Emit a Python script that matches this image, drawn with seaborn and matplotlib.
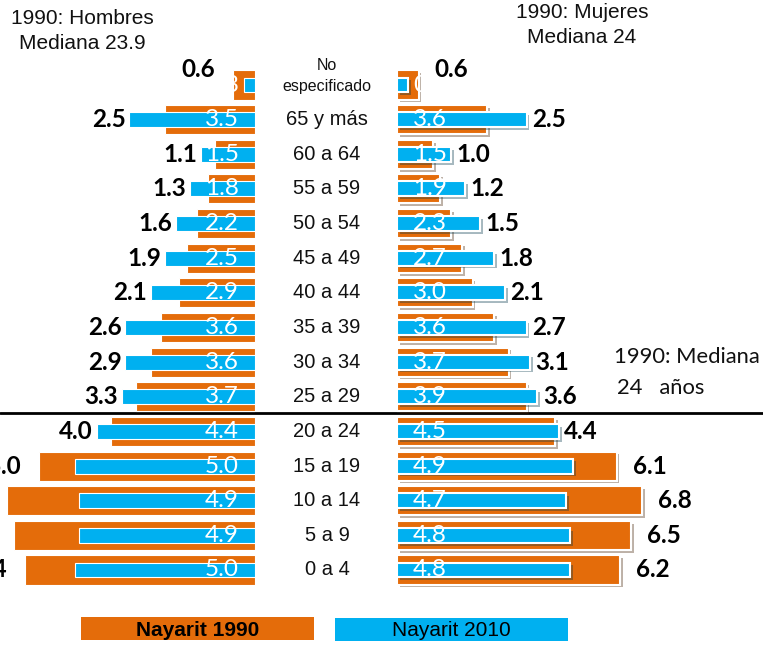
import matplotlib
matplotlib.use("Agg")
import matplotlib.pyplot as plt
import matplotlib.patheffects as pe
import matplotlib.transforms as mtransforms
from matplotlib.patches import Rectangle
from matplotlib.lines import Line2D
import seaborn as sns
import pandas as pd

# grupos de edad, de arriba hacia abajo
EDADES = ["No\nespecificado", "65 y más", "60 a 64", "55 a 59", "50 a 54", "45 a 49",
          "40 a 44", "35 a 39", "30 a 34", "25 a 29", "20 a 24", "15 a 19",
          "10 a 14", "5 a 9", "0 a 4"]
HOMBRES_1990 = [0.6, 2.5, 1.1, 1.3, 1.6, 1.9, 2.1, 2.6, 2.9, 3.3, 4.0, 6.0, 6.9, 6.7, 6.4]
HOMBRES_2010 = [0.3, 3.5, 1.5, 1.8, 2.2, 2.5, 2.9, 3.6, 3.6, 3.7, 4.4, 5.0, 4.9, 4.9, 5.0]
MUJERES_1990 = [0.6, 2.5, 1.0, 1.2, 1.5, 1.8, 2.1, 2.7, 3.1, 3.6, 4.4, 6.1, 6.8, 6.5, 6.2]
MUJERES_2010 = [0.3, 3.6, 1.5, 1.9, 2.3, 2.7, 3.0, 3.6, 3.7, 3.9, 4.5, 4.9, 4.7, 4.8, 4.8]

ORANGE = "#E46C0A"
BLUE = "#00B0F0"
ARIAL = "Liberation Sans"
CALIBRI = "Lato"

W, H = 763, 645
df = pd.DataFrame({"edad": EDADES, "h90": HOMBRES_1990, "h10": HOMBRES_2010,
                   "m90": MUJERES_1990, "m10": MUJERES_2010})

sns.set_theme(style="white")
fig = plt.figure(figsize=(W / 100, H / 100), dpi=100)


def box(x0, x1, ytop, ybot):
    return [x0 / W, 1 - ybot / H, (x1 - x0) / W, (ybot - ytop) / H]


ax_l = fig.add_axes(box(0, 255, 67.7, 587.3))
ax_r = fig.add_axes(box(397, 763, 67.7, 587.3))

for ax, c90, c10, edge in [(ax_l, "h90", "h10", 0.8), (ax_r, "m90", "m10", 1.5)]:
    sns.barplot(data=df, x=c90, y="edad", order=EDADES, orient="h", color=ORANGE,
                saturation=1, width=0.84, errorbar=None, edgecolor="white",
                linewidth=edge, ax=ax)
    sns.barplot(data=df, x=c10, y="edad", order=EDADES, orient="h", color=BLUE,
                saturation=1, width=0.43, errorbar=None, edgecolor="white",
                linewidth=edge, ax=ax)
    ax.set_ylim(14.5, -0.5)
    ax.set_axis_off()

ax_l.set_xlim(255 / 36, 0)
ax_r.set_xlim(0, 366 / 36)

for p in ax_r.patches:
    p.set_path_effects([pe.SimplePatchShadow(offset=(2, -2), alpha=0.35), pe.Normal()])

# etiquetas de valores
for i, (o, b) in enumerate(zip(HOMBRES_1990, HOMBRES_2010)):
    dy = -0.45 if i == 0 else 0
    gap = 0.5 if o > b else 0.1
    ax_l.text(0.45, i, f"{b:.1f}", ha="right", va="center", color="white",
              fontsize=17.5, family=CALIBRI)
    ax_l.text(max(o, b) + gap, i + dy, f"{o:.1f}", ha="right", va="center",
              color="black", fontsize=17.5, fontweight="bold", family=CALIBRI)

for i, (o, b) in enumerate(zip(MUJERES_1990, MUJERES_2010)):
    dy = -0.45 if i == 0 else 0
    gap = 0.45 if o > b else 0.15
    ax_r.text(0.45, i, f"{b:.1f}", ha="left", va="center", color="white",
              fontsize=17.5, family=CALIBRI)
    ax_r.text(max(o, b) + gap, i + dy, f"{o:.1f}", ha="left", va="center",
              color="black", fontsize=17.5, fontweight="bold", family=CALIBRI)

# grupos de edad al centro
trans = mtransforms.blended_transform_factory(fig.transFigure, ax_r.transData)
for i, lab in enumerate(EDADES):
    if i == 0:
        ax_r.text(327 / W, i - 0.27, lab, transform=trans, ha="center", va="center",
                  fontsize=11.5, family=ARIAL, color="#111111", linespacing=1.5,
                  clip_on=False)
    else:
        ax_r.text(327 / W, i, lab, transform=trans, ha="center", va="center",
                  fontsize=14.5, family=ARIAL, color="#111111", clip_on=False)

# linea de la mediana
fig.add_artist(Line2D([0, 1], [1 - 413 / H] * 2, transform=fig.transFigure,
                      color="black", lw=2, zorder=-1))

fig.text(82 / W, 1 - 31 / H, "1990: Hombres\nMediana 23.9", ha="center", va="center",
         fontsize=15, family=ARIAL, color="#111111", linespacing=1.35)
fig.text(582 / W, 1 - 25 / H, "1990: Mujeres\nMediana 24", ha="center", va="center",
         fontsize=15, family=ARIAL, color="#111111", linespacing=1.4)
fig.text(614 / W, 1 - 357 / H, "1990: Mediana", ha="left", va="center",
         fontsize=15.8, family=CALIBRI, color="#111111")
fig.text(617 / W, 1 - 388 / H, "24   años", ha="left", va="center",
         fontsize=15.8, family=CALIBRI, color="#111111")

# leyenda
fig.patches.append(Rectangle((81 / W, 1 - 640 / H), 233 / W, 23 / H,
                             transform=fig.transFigure, facecolor=ORANGE, edgecolor="none"))
fig.patches.append(Rectangle((335 / W, 1 - 641 / H), 233 / W, 23 / H,
                             transform=fig.transFigure, facecolor=BLUE, edgecolor="none"))
fig.text(198 / W, 1 - 630 / H, "Nayarit 1990", ha="center", va="center",
         fontsize=15, fontweight="bold", family=ARIAL, color="black")
fig.text(451 / W, 1 - 630 / H, "Nayarit 2010", ha="center", va="center",
         fontsize=15, family=ARIAL, color="black")

fig.savefig("out.png", dpi=100)
